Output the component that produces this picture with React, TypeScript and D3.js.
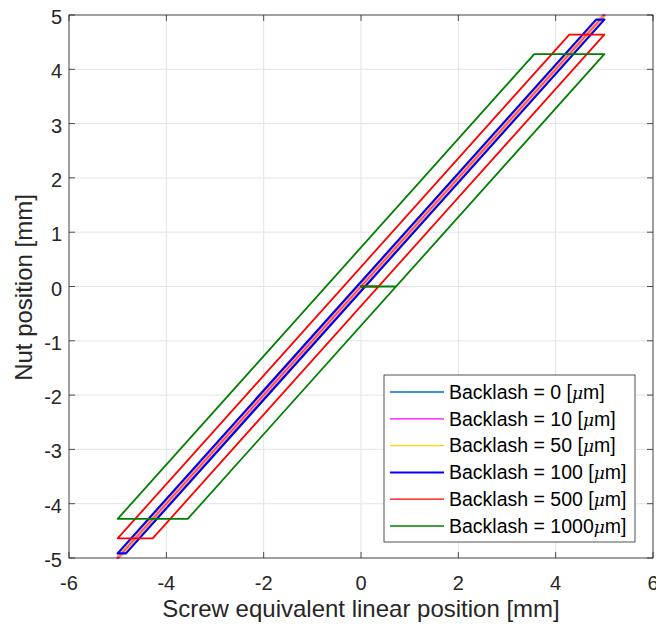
import React from "react";
import * as d3 from "d3";

const xTicks = [-6, -4, -2, 0, 2, 4, 6];
const yTicks = [-5, -4, -3, -2, -1, 0, 1, 2, 3, 4, 5];

const seriesNames = [
  "Backlash = 0 [",
  "Backlash = 10 [",
  "Backlash = 50 [",
  "Backlash = 100 [",
  "Backlash = 500 [",
  "Backlash = 1000",
];
const seriesColors = ["#0072bd", "#ff00ff", "#ffd500", "#0000ff", "#ff0000", "#008000"];
const seriesWidths = [1.6, 2.4, 2.4, 2.2, 1.8, 1.8];
const legendWidths = [1.3, 1.3, 1.3, 2, 1.3, 1.3];

const backlash0: [number, number][] = [[0, 0], [5, 5], [-5, -5], [5, 5]];
const backlash10: [number, number][] = [[0, 0], [0.009, 0], [5, 4.991], [4.982, 4.991], [-5, -4.991], [-4.982, -4.991], [5, 4.991]];
const backlash50: [number, number][] = [[0, 0], [0.043, 0], [5, 4.957], [4.914, 4.957], [-5, -4.957], [-4.914, -4.957], [5, 4.957]];
const backlash100: [number, number][] = [[0, 0], [0.085, 0], [5, 4.915], [4.83, 4.915], [-5, -4.915], [-4.83, -4.915], [5, 4.915]];
const backlash500: [number, number][] = [[0, 0], [0.36, 0], [5, 4.64], [4.28, 4.64], [-5, -4.64], [-4.28, -4.64], [5, 4.64]];
const backlash1000: [number, number][] = [[0, 0], [0.72, 0], [5, 4.28], [3.56, 4.28], [-5, -4.28], [-3.56, -4.28], [5, 4.28]];

const allSeries = [backlash0, backlash10, backlash50, backlash100, backlash500, backlash1000];

const W = 656;
const H = 630;
const left = 69;
const right = 653;
const top = 15;
const bottom = 558;
const FONT = "'Liberation Sans', Arial, Helvetica, sans-serif";
const AX = "#262626";

export default function App() {
  const x = d3.scaleLinear().domain([-6, 6]).range([left, right]);
  const y = d3.scaleLinear().domain([-5, 5]).range([bottom, top]);
  const line = d3
    .line<[number, number]>()
    .x((d) => x(d[0]))
    .y((d) => y(d[1]));

  const tickLen = 6;
  const lg = { x: 384, y: 375, w: 251, h: 167 };
  const rowH = 26.8;

  return (
    <svg
      width={W}
      height={H}
      style={{ position: "absolute", left: 0, top: 0, background: "#fff" }}
      fontFamily={FONT}
    >
      <rect x={0} y={0} width={W} height={H} fill="#fff" />
      {/* grid */}
      {xTicks.map((t) => (
        <line key={"gx" + t} x1={x(t)} x2={x(t)} y1={top} y2={bottom} stroke="#e3e3e3" strokeWidth={1} />
      ))}
      {yTicks.map((t) => (
        <line key={"gy" + t} x1={left} x2={right} y1={y(t)} y2={y(t)} stroke="#e3e3e3" strokeWidth={1} />
      ))}
      {/* series */}
      {allSeries.map((s, i) => (
        <path
          key={"s" + i}
          d={line(s) || ""}
          fill="none"
          stroke={seriesColors[i]}
          strokeWidth={seriesWidths[i]}
          strokeOpacity={i === 2 ? 0.7 : 1}
          strokeLinejoin="round"
          strokeLinecap="round"
        />
      ))}
      {/* box */}
      <rect x={left} y={top} width={right - left} height={bottom - top} fill="none" stroke={AX} strokeWidth={0.8} />
      {/* ticks */}
      {xTicks.map((t) => (
        <g key={"tx" + t}>
          <line x1={x(t)} x2={x(t)} y1={bottom} y2={bottom - tickLen} stroke={AX} strokeWidth={0.8} />
          <line x1={x(t)} x2={x(t)} y1={top} y2={top + tickLen} stroke={AX} strokeWidth={0.8} />
          <text x={x(t)} y={590} textAnchor="middle" fontSize={20} fill={AX}>
            {t}
          </text>
        </g>
      ))}
      {yTicks.map((t) => (
        <g key={"ty" + t}>
          <line x1={left} x2={left + tickLen} y1={y(t)} y2={y(t)} stroke={AX} strokeWidth={0.8} />
          <line x1={right} x2={right - tickLen} y1={y(t)} y2={y(t)} stroke={AX} strokeWidth={0.8} />
          <text x={62} y={y(t) + 9} textAnchor="end" fontSize={20} fill={AX}>
            {t}
          </text>
        </g>
      ))}
      {/* axis labels */}
      <text x={(left + right) / 2} y={617} textAnchor="middle" fontSize={24} fill={AX}>
        Screw equivalent linear position [mm]
      </text>
      <text
        transform={`translate(32, ${(top + bottom) / 2 + 1}) rotate(-90)`}
        textAnchor="middle"
        fontSize={24}
        fill={AX}
      >
        Nut position [mm]
      </text>
      {/* legend */}
      <rect x={lg.x} y={lg.y} width={lg.w} height={lg.h} fill="#fff" stroke={AX} strokeWidth={0.8} />
      {seriesNames.map((n, i) => {
        const cy = lg.y + 17 + i * rowH;
        return (
          <g key={"lg" + i}>
            <line x1={390} x2={444} y1={cy} y2={cy} stroke={seriesColors[i]} strokeWidth={legendWidths[i]} />
            <text x={449} y={cy + 6.8} fontSize={19.5} fill="#000">
              {n}
              <tspan fontStyle="italic" fontFamily="'DejaVu Serif', serif" fontSize={17}>
                μ
              </tspan>
              m]
            </text>
          </g>
        );
      })}
    </svg>
  );
}
